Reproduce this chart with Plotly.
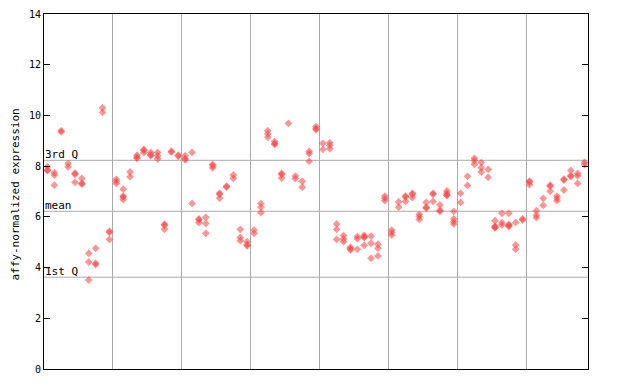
import plotly.graph_objects as go

# replicate values per sample column (1..79)
samples = [
    [7.98, 7.85, 7.82], [7.74, 7.65, 7.25], [9.40, 9.35], [8.10, 7.97], [7.72, 7.68, 7.36],
    [7.52, 7.33, 7.29], [4.56, 4.22, 3.51], [4.76, 4.17, 4.12], [10.30, 10.12], [5.43, 5.39, 5.11],
    [7.48, 7.40, 7.32], [7.09, 6.82, 6.78, 6.68], [7.77, 7.58], [8.43, 8.35, 8.31], [8.66, 8.62, 8.53],
    [8.54, 8.45, 8.41], [8.54, 8.41, 8.29], [5.71, 5.67, 5.51], [8.59, 8.55], [8.43, 8.39],
    [8.41, 8.30, 8.25], [8.54, 6.53], [5.92, 5.88, 5.77], [5.98, 5.74, 5.35], [8.06, 8.02, 7.93],
    [6.93, 6.89, 6.73], [7.21, 7.17], [7.65, 7.52], [5.51, 5.19, 5.06], [5.02, 4.90, 4.86],
    [5.48, 5.35], [6.53, 6.38, 6.17], [9.40, 9.27, 9.14], [8.97, 8.89, 8.85], [7.71, 7.67, 7.53],
    [9.69], [7.61, 7.51], [7.40, 7.17], [8.58, 8.50, 8.19], [9.56, 9.48, 9.44],
    [8.90, 8.66], [8.92, 8.82, 8.69], [5.72, 5.51, 5.11], [5.26, 5.13, 5.02], [4.80, 4.74, 4.70],
    [5.22, 5.14, 4.72], [5.27, 5.21, 5.19, 4.88], [5.24, 4.96, 4.37], [4.92, 4.76, 4.46], [6.82, 6.73, 6.64],
    [5.48, 5.38, 5.28], [6.59, 6.38], [6.82, 6.78, 6.61], [6.93, 6.89, 6.76], [6.10, 6.01, 5.90],
    [6.57, 6.38, 6.34], [6.93, 6.89, 6.61], [6.47, 6.26, 6.22], [7.02, 6.93, 6.85, 6.85], [6.22, 5.92, 5.81, 5.72],
    [6.93, 6.57], [7.60, 7.24], [8.31, 8.22, 8.07], [8.14, 7.94, 7.77], [7.87, 7.56],
    [5.85, 5.63, 5.59, 5.57], [6.14, 5.77, 5.68], [6.14, 5.70, 5.66, 5.62], [5.78, 4.89, 4.72], [5.92, 5.88],
    [7.41, 7.37, 7.27], [6.24, 6.06, 5.97], [6.73, 6.45], [7.25, 7.21, 7.01], [6.82, 6.73, 6.64],
    [7.49, 7.45, 7.06], [7.83, 7.63, 7.59], [7.71, 7.62, 7.32], [8.15, 8.06],
]

ref_names = ["3rd Q", "mean", "1st Q"]
ref_values = [8.23, 6.22, 3.62]
y_ticks = [0, 2, 4, 6, 8, 10, 12, 14]
group_bounds = [10.5, 20.5, 30.5, 40.5, 50.5, 60.5, 70.5]

xs, ys = [], []
for i, vals in enumerate(samples, start=1):
    for v in vals:
        xs.append(i)
        ys.append(v)

n = len(samples)
mono = "DejaVu Sans Mono"
grid = "#aaaaaa"

fig = go.Figure()
fig.add_trace(go.Scatter(
    x=xs, y=ys, mode="markers",
    marker=dict(symbol="diamond", size=6, color="rgba(255,64,64,0.55)", line=dict(width=0)),
    hoverinfo="y", showlegend=False,
))

for v in ref_values:
    fig.add_shape(type="line", xref="paper", x0=0, x1=1, yref="y", y0=v, y1=v,
                  line=dict(color=grid, width=1), layer="below")
for name, v in zip(ref_names, ref_values):
    fig.add_annotation(xref="paper", x=0, xanchor="left", yref="y", y=v, yanchor="bottom",
                       text=name, showarrow=False, font=dict(family=mono, size=11, color="#000"),
                       xshift=-1, yshift=-3)

fig.add_annotation(xref="paper", x=-36 / 544, yref="paper", y=0.49, text="affy-normalized expression",
                   textangle=-90, showarrow=False, font=dict(family=mono, size=11, color="#000"),
                   xanchor="left", yanchor="middle", borderpad=0)

# page body has an 8px default margin, so the figure is sized and margined to compensate
fig.update_layout(
    width=632, height=376,
    margin=dict(l=36, r=52, t=6, b=15, autoexpand=False),
    paper_bgcolor="white", plot_bgcolor="white",
    font=dict(family=mono, size=10, color="#000"),
    xaxis=dict(range=[0.5, n + 0.5], tickvals=group_bounds, showticklabels=False, ticks="",
               showgrid=True, gridcolor=grid, gridwidth=1, zeroline=False,
               showline=True, linecolor="#000", linewidth=1, mirror=True),
    yaxis=dict(range=[0, 14], tickvals=y_ticks, ticks="inside", ticklen=6, tickcolor="#000",
               showgrid=False, zeroline=False, showline=True, linecolor="#000", linewidth=1,
               mirror="allticks", tickfont=dict(family=mono, size=10), automargin=False),
)

fig.write_html("out.html")
